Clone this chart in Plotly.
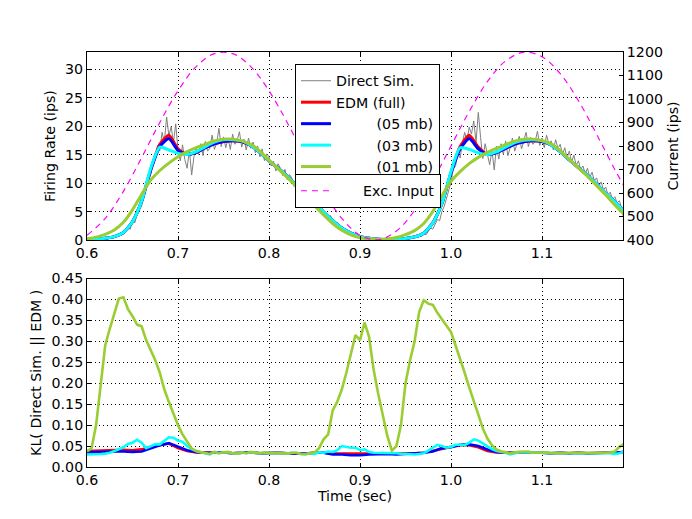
import numpy as np
import plotly.graph_objects as go

# ---------------- data ----------------
# time grids (s)
t_coarse = np.round(0.60 + 0.01 * np.arange(60), 3)      # 0.60 .. 1.19
t_fine = np.round(0.60 + 0.005 * np.arange(119), 4)      # 0.600 .. 1.190
t_sim = np.round(0.60 + 0.0025 * np.arange(237), 5)      # 0.6000 .. 1.1900
t_input = [0.60, 0.62, 0.64, 0.66, 0.68, 0.70, 0.72, 0.74, 0.76, 0.78, 0.80, 0.82, 0.84,
           0.86, 0.88, 0.90, 0.92, 0.94, 0.96, 0.98, 1.00, 1.02, 1.04, 1.06, 1.08, 1.10,
           1.12, 1.14, 1.16, 1.18, 1.19]

direct_sim = [
    0.0, 0.1, 0.3, 0.0, 0.2, 0.1, 0.0, 0.3, 0.2, 0.1,
    0.5, 0.3, 0.8, 0.6, 0.9, 1.2, 1.0, 1.6, 2.1, 1.9,
    3.4, 3.0, 4.5, 5.2, 6.0, 7.4, 9.1, 10.6, 11.5, 13.9,
    14.2, 16.6, 15.7, 18.9, 17.2, 21.6, 18.3, 19.9, 17.1, 20.4,
    15.8, 13.9, 16.7, 14.1, 12.6, 15.8, 11.4, 14.6, 16.2, 15.0,
    16.9, 14.8, 17.3, 15.6, 16.1, 18.4, 15.9, 17.0, 19.6, 16.4,
    18.1, 16.2, 17.8, 15.9, 18.6, 16.8, 17.5, 19.0, 16.3, 17.7,
    15.8, 17.9, 16.1, 17.2, 15.3, 16.5, 14.6, 16.0, 13.9, 15.1,
    14.6, 13.0, 13.8, 12.1, 13.4, 12.6, 11.3, 12.4, 10.6, 11.5,
    10.9, 9.4, 10.2, 8.6, 9.3, 8.4, 7.6, 8.5, 7.1, 6.6,
    7.2, 5.9, 6.1, 5.2, 5.0, 4.4, 3.8, 4.3, 3.6, 2.8,
    3.1, 2.2, 2.4, 1.7, 1.9, 1.3, 1.1, 1.4, 0.8, 0.9,
    0.6, 0.3, 0.5, 0.4, 0.2, 0.4, 0.1, 0.2, 0.3, 0.1,
    0.0, 0.2, 0.1, 0.0, 0.2, 0.1, 0.3, 0.1, 0.4, 0.2,
    0.1, 0.4, 0.3, 0.6, 0.4, 0.5, 0.8, 0.6, 1.1, 0.9,
    1.4, 2.1, 1.9, 2.8, 3.6, 3.4, 5.0, 5.9, 7.2, 8.6,
    10.1, 12.4, 13.0, 15.2, 14.4, 17.0, 18.9, 17.4, 19.8, 18.6,
    20.9, 17.2, 22.4, 18.0, 14.3, 16.9, 15.1, 13.2, 15.8, 12.3,
    16.5, 14.2, 16.9, 15.0, 17.4, 14.8, 16.2, 17.9, 15.6, 17.1,
    18.2, 16.0, 17.6, 18.9, 16.4, 18.0, 16.8, 17.3, 19.1, 16.6,
    17.9, 16.2, 18.4, 16.9, 17.4, 15.8, 17.6, 16.1, 16.8, 15.0,
    16.2, 14.4, 15.6, 13.7, 14.9, 13.1, 13.9, 12.4, 13.0, 11.6,
    12.6, 11.0, 11.9, 10.4, 10.9, 9.5, 10.2, 8.8, 9.3, 7.9,
    8.4, 7.1, 7.6, 6.5, 6.9, 5.6, 3.6]

edm_full = [
    0.1, 0.15, 0.3, 0.6, 1.3, 3.2, 6.8, 12.3, 16.8, 18.4,
    16.0, 15.0, 15.4, 16.2, 16.9, 17.3, 17.4, 17.3, 16.6, 15.4,
    13.9, 12.6, 11.2, 9.6, 8.0, 6.6, 4.9, 3.4, 2.1, 1.2,
    0.6, 0.3, 0.15,
    0.1, 0.15, 0.28, 0.55, 1.2, 3.0, 6.4, 11.8, 16.4, 18.4,
    16.3, 15.0, 15.35, 16.1, 16.85, 17.25, 17.4, 17.3, 16.7, 15.5,
    14.05, 12.7, 11.35, 9.8, 8.2, 6.7, 5.1]

edm_05mb = [
    0.1, 0.15, 0.3, 0.6, 1.3, 3.2, 6.8, 12.3, 16.4, 17.8,
    15.7, 15.0, 15.4, 16.2, 16.9, 17.3, 17.4, 17.3, 16.6, 15.4,
    13.9, 12.6, 11.2, 9.6, 8.0, 6.6, 4.9, 3.4, 2.1, 1.2,
    0.6, 0.3, 0.15,
    0.1, 0.15, 0.28, 0.55, 1.2, 3.0, 6.4, 11.8, 16.0, 17.8,
    16.0, 15.0, 15.35, 16.1, 16.85, 17.25, 17.4, 17.3, 16.7, 15.5,
    14.05, 12.7, 11.35, 9.8, 8.2, 6.7, 5.1]

edm_03mb = [
    0.1, 0.15, 0.3, 0.6, 1.3, 3.2, 6.8, 12.6, 16.3, 15.8,
    15.2, 15.0, 15.5, 16.4, 17.2, 17.6, 17.6, 17.4, 16.6, 15.4,
    13.9, 12.6, 11.2, 9.6, 8.0, 6.6, 4.9, 3.4, 2.1, 1.2,
    0.6, 0.3, 0.15,
    0.1, 0.15, 0.28, 0.55, 1.2, 3.0, 6.4, 12.0, 16.2, 15.9,
    15.3, 15.0, 15.45, 16.3, 17.1, 17.5, 17.6, 17.4, 16.7, 15.5,
    14.05, 12.7, 11.35, 9.8, 8.2, 6.7, 5.1]

edm_01mb = [
    0.2, 0.5, 1.0, 1.75, 3.1, 5.3, 8.0, 10.5, 12.2, 13.5,
    14.6, 15.5, 16.2, 16.8, 17.4, 17.7, 17.7, 17.4, 16.8, 15.6,
    14.0, 12.5, 11.0, 9.4, 7.7, 6.0, 4.4, 2.9, 1.7, 0.9,
    0.4, 0.2, 0.1,
    0.2, 0.45, 0.95, 1.65, 2.9, 5.0, 7.8, 10.3, 12.0, 13.4,
    14.5, 15.4, 16.1, 16.75, 17.35, 17.7, 17.7, 17.45, 16.9, 15.7,
    14.15, 12.65, 11.15, 9.55, 7.9, 6.15, 4.55]

exc_input = [420, 492, 607, 750, 900, 1035, 1138, 1193, 1193, 1138, 1035, 900, 750,
             607, 492, 420, 401, 438, 526, 653, 800, 947, 1074, 1162, 1199, 1180,
             1108, 993, 850, 700, 630]

kl_full = [
    0.038, 0.039, 0.040, 0.040, 0.041, 0.040, 0.042, 0.048, 0.052, 0.056,
    0.045, 0.038, 0.035, 0.034, 0.034, 0.035, 0.033, 0.034, 0.035, 0.033,
    0.034, 0.034, 0.033, 0.033, 0.032, 0.034, 0.034, 0.032, 0.032, 0.031,
    0.031, 0.032, 0.033, 0.033, 0.032, 0.032, 0.033, 0.034, 0.038, 0.043,
    0.048, 0.052, 0.052, 0.047, 0.038, 0.035, 0.034, 0.034, 0.035, 0.034,
    0.034, 0.033, 0.034, 0.033, 0.034, 0.033, 0.034, 0.034, 0.034, 0.036]

kl_05mb = [
    0.035, 0.036, 0.037, 0.037, 0.037, 0.036, 0.037, 0.045, 0.052, 0.057,
    0.048, 0.040, 0.036, 0.034, 0.034, 0.035, 0.033, 0.034, 0.035, 0.033,
    0.034, 0.034, 0.033, 0.033, 0.032, 0.034, 0.034, 0.030, 0.030, 0.028,
    0.028, 0.030, 0.031, 0.031, 0.030, 0.031, 0.033, 0.034, 0.037, 0.045,
    0.047, 0.053, 0.054, 0.050, 0.042, 0.036, 0.034, 0.034, 0.035, 0.034,
    0.034, 0.033, 0.034, 0.033, 0.034, 0.033, 0.034, 0.034, 0.034, 0.036]

kl_03mb = [
    0.030, 0.030, 0.031, 0.031, 0.032, 0.034, 0.038, 0.042, 0.047, 0.055,
    0.058, 0.065, 0.058, 0.045, 0.050, 0.054, 0.054, 0.062, 0.071, 0.070,
    0.063, 0.060, 0.050, 0.043, 0.038, 0.035, 0.032, 0.030, 0.036, 0.033,
    0.035, 0.035, 0.033, 0.032, 0.035, 0.033, 0.035, 0.034, 0.033, 0.034,
    0.034, 0.033, 0.034, 0.033, 0.032, 0.034, 0.034, 0.031, 0.030, 0.033,
    0.031, 0.035, 0.034, 0.037, 0.036, 0.040, 0.050, 0.048, 0.046, 0.046,
    0.040, 0.042, 0.036, 0.034, 0.034, 0.033, 0.033, 0.033, 0.033, 0.032,
    0.031, 0.030, 0.030, 0.031, 0.033, 0.039, 0.045, 0.053, 0.050, 0.046,
    0.048, 0.053, 0.053, 0.052, 0.058, 0.066, 0.063, 0.056, 0.050, 0.043,
    0.038, 0.036, 0.034, 0.030, 0.033, 0.035, 0.035, 0.035, 0.034, 0.034,
    0.034, 0.033, 0.034, 0.033, 0.034, 0.033, 0.033, 0.034, 0.034, 0.033,
    0.033, 0.034, 0.034, 0.033, 0.034, 0.033, 0.031, 0.033, 0.037]

kl_01mb = [
    0.037, 0.045, 0.100, 0.190, 0.290, 0.330, 0.365, 0.402, 0.405, 0.377,
    0.360, 0.340, 0.336, 0.303, 0.279, 0.255, 0.225, 0.185, 0.155, 0.128,
    0.100, 0.078, 0.060, 0.044, 0.038, 0.036, 0.034, 0.031, 0.036, 0.033,
    0.035, 0.036, 0.033, 0.032, 0.035, 0.033, 0.036, 0.034, 0.033, 0.035,
    0.034, 0.033, 0.034, 0.033, 0.032, 0.034, 0.034, 0.031, 0.031, 0.033,
    0.035, 0.045, 0.066, 0.078, 0.135, 0.156, 0.185, 0.225, 0.270, 0.315,
    0.303, 0.345, 0.310, 0.232, 0.175, 0.120, 0.074, 0.039, 0.050, 0.100,
    0.200, 0.255, 0.300, 0.370, 0.398, 0.390, 0.387, 0.368, 0.352, 0.337,
    0.322, 0.290, 0.260, 0.225, 0.190, 0.155, 0.125, 0.092, 0.068, 0.052,
    0.042, 0.037, 0.036, 0.032, 0.035, 0.036, 0.036, 0.037, 0.034, 0.034,
    0.034, 0.035, 0.033, 0.034, 0.033, 0.034, 0.034, 0.034, 0.034, 0.034,
    0.033, 0.033, 0.034, 0.034, 0.034, 0.035, 0.037, 0.048, 0.055]

x_ticks = [0.6, 0.7, 0.8, 0.9, 1.0, 1.1]
rate_ticks = [0, 5, 10, 15, 20, 25, 30]
current_ticks = [400, 500, 600, 700, 800, 900, 1000, 1100, 1200]
kl_ticks = [0.00, 0.05, 0.10, 0.15, 0.20, 0.25, 0.30, 0.35, 0.40, 0.45]

# ---------------- styling ----------------
FONT = "DejaVu Sans"
FS = 14.2
NB = "\u00a0"
GRAY, RED, BLUE, CYAN, GREEN, MAG = "#808080", "#ff0000", "#0000ff", "#00ffff", "#9acd32", "#ff00ff"

fig = go.Figure()

# top panel: firing rates
fig.add_trace(go.Scatter(x=t_sim, y=direct_sim, mode="lines", name="Direct Sim.",
                         line=dict(color=GRAY, width=1), xaxis="x", yaxis="y", legend="legend"))
for vals, name, col in [(edm_full, "EDM (full)", RED),
                        (edm_05mb, NB * 9 + "(05 mb)", BLUE),
                        (edm_03mb, NB * 9 + "(03 mb)", CYAN),
                        (edm_01mb, NB * 9 + "(01 mb)", GREEN)]:
    fig.add_trace(go.Scatter(x=t_coarse, y=vals, mode="lines", name=name,
                             line=dict(color=col, width=3, shape="spline", smoothing=0.6),
                             xaxis="x", yaxis="y", legend="legend"))
fig.add_trace(go.Scatter(x=t_input, y=exc_input, mode="lines", name=NB * 6 + "Exc. Input",
                         line=dict(color=MAG, width=1.2, dash="6px,5px", shape="spline"),
                         xaxis="x", yaxis="y2", legend="legend2"))

# bottom panel: KL divergence
fig.add_trace(go.Scatter(x=t_coarse, y=kl_full, mode="lines", showlegend=False,
                         line=dict(color=RED, width=2.6), xaxis="x2", yaxis="y3"))
fig.add_trace(go.Scatter(x=t_coarse, y=kl_05mb, mode="lines", showlegend=False,
                         line=dict(color=BLUE, width=2.6), xaxis="x2", yaxis="y3"))
fig.add_trace(go.Scatter(x=t_fine, y=kl_03mb, mode="lines", showlegend=False,
                         line=dict(color=CYAN, width=2.6), xaxis="x2", yaxis="y3"))
fig.add_trace(go.Scatter(x=t_fine, y=kl_01mb, mode="lines", showlegend=False,
                         line=dict(color=GREEN, width=2.6), xaxis="x2", yaxis="y3"))

# page body has an 8px margin: the figure is sized so the axes land where the reference has them
OFF = 8
W, H = 692 - OFF, 519 - OFF
ML, MR, MT, MB = 87 - OFF, 69, 52 - OFF, 52
plot_w = W - ML - MR
plot_h = H - MT - MB
top_dom = [(467 - 240) / plot_h, 1.0]
bot_dom = [0.0, (467 - 278.5) / plot_h]

grid = dict(showgrid=True, gridcolor="#000000", gridwidth=1, griddash="1px,3px")
axline = dict(showline=True, linecolor="black", linewidth=1, ticks="inside", ticklen=4,
              tickcolor="black", zeroline=False, tickfont=dict(family=FONT, size=FS, color="black"))

xcommon = dict(range=[0.6, 1.189], tickvals=x_ticks, tickformat=".1f", mirror="ticks", **grid, **axline)

fig.update_layout(
    width=W, height=H, autosize=False,
    paper_bgcolor="white", plot_bgcolor="white",
    margin=dict(l=ML, r=MR, t=MT, b=MB),
    font=dict(family=FONT, size=FS, color="black"),
    xaxis=dict(domain=[0, 1], anchor="y", **xcommon),
    yaxis=dict(domain=top_dom, anchor="x", range=[0, 33], tickvals=rate_ticks, mirror=True,
               title=dict(text="Firing Rate (ips)", standoff=6, font=dict(family=FONT, size=FS)),
               **grid, **axline),
    yaxis2=dict(overlaying="y", side="right", anchor="x", range=[400, 1200],
                tickvals=current_ticks, showgrid=False,
                title=dict(text="Current (ips)", standoff=6, font=dict(family=FONT, size=FS)),
                **axline),
    xaxis2=dict(domain=[0, 1], anchor="y3",
                title=dict(text="Time (sec)", standoff=2, font=dict(family=FONT, size=FS)),
                **xcommon),
    yaxis3=dict(domain=bot_dom, anchor="x2", range=[0, 0.45], tickvals=kl_ticks, tickformat=".2f",
                mirror="ticks",
                title=dict(text="KL( Direct Sim. || EDM )", standoff=6, font=dict(family=FONT, size=FS)),
                **grid, **axline),
    legend=dict(x=(295 - 87) / plot_w, y=(467 - 64) / plot_h, xanchor="left", yanchor="top",
                bgcolor="white", bordercolor="black", borderwidth=1,
                font=dict(family=FONT, size=FS, color="black"), tracegroupgap=0),
    legend2=dict(x=(295 - 87) / plot_w, y=(467 - 174) / plot_h, xanchor="left", yanchor="top",
                 bgcolor="white", bordercolor="black", borderwidth=1,
                 font=dict(family=FONT, size=FS, color="black")),
)

fig.write_html("out.html")
